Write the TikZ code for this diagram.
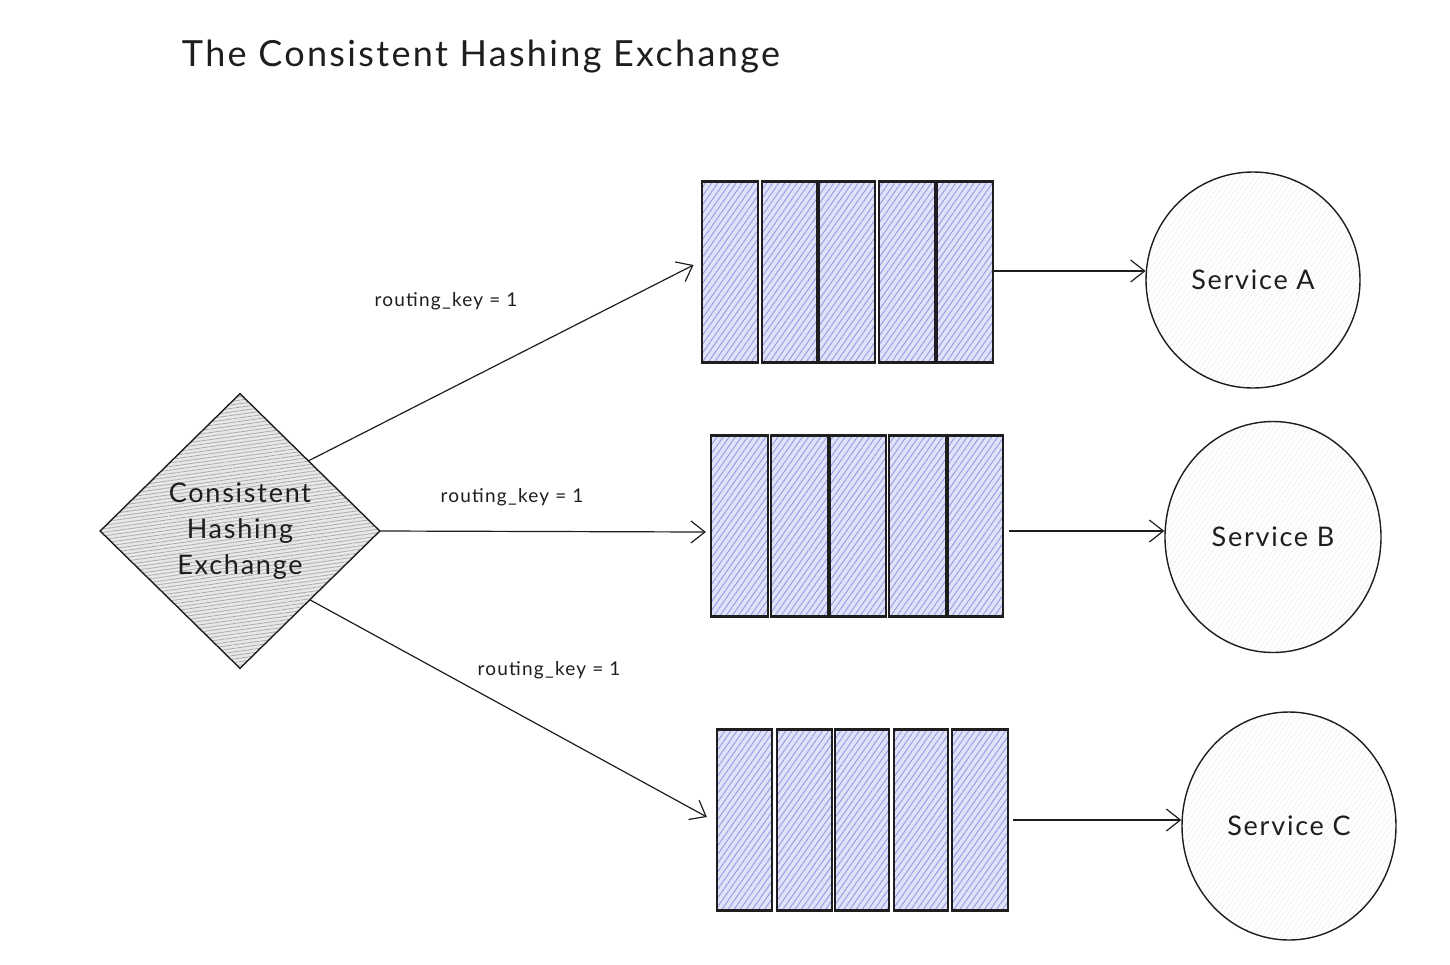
\documentclass[tikz,border=0pt]{standalone}
\usepackage{fontspec}
\setmainfont{Lato}
\newfontfamily\handfont[LetterSpace=6.5]{Lato}
\usetikzlibrary{shapes.geometric,arrows.meta,patterns.meta,calc}

\definecolor{ink}{HTML}{1E1E1E}
\definecolor{qfill}{HTML}{E0E2F8}
\definecolor{qhatch}{HTML}{959AE0}
\definecolor{xhatch}{HTML}{ABABAB}
\definecolor{xfill}{HTML}{E8E8E8}
\definecolor{shatch}{HTML}{E0E0E0}

\begin{document}
\begin{tikzpicture}[x=1pt,y=-1pt,
  cell/.style={draw=ink, line width=2.2pt, preaction={fill=qfill},
    pattern={Lines[angle=55,distance=5pt,line width=0.9pt]}, pattern color=qhatch,
    minimum height=181pt, inner sep=0pt},
  exch/.style={diamond, draw=ink, line width=1.4pt, preaction={fill=xfill},
    pattern={Lines[angle=8,distance=3.5pt,line width=0.8pt]}, pattern color=xhatch,
    minimum width=280pt, minimum height=275pt, inner sep=0pt,
    align=center, font=\handfont\fontsize{27}{36}\selectfont, text=ink},
  svc/.style={ellipse, draw=ink, line width=1.4pt, preaction={fill=white},
    pattern={Lines[angle=55,distance=4pt,line width=0.8pt]}, pattern color=shatch,
    inner sep=0pt, font=\handfont\fontsize{27}{30}\selectfont, text=ink},
  lbl/.style={font=\handfont\fontsize{19}{20}\selectfont, text=ink, inner sep=0pt},
  link/.style={draw=ink, line width=1.2pt, -{Straight Barb[length=14pt,width=22pt,line width=1.2pt]}}]

\useasboundingbox[fill=white] (0,0) rectangle (1450,964);

% title
\node[font=\handfont\fontsize{36}{40}\selectfont, text=ink] (title) at (481,57) {The Consistent Hashing Exchange};

% exchange
\node[exch] (ex) at (240,531) {Consistent\\Hashing\\Exchange};

% queues, five cells each
\foreach \cx/\w [count=\i] in {730/56, 789.5/55, 847/56, 907/56, 965/56}
  \node[cell, minimum width=\w pt] (qA\i) at (\cx,272) {};
\foreach \cx/\w [count=\i] in {739.5/57, 799.5/57, 858/56, 917.5/57, 975.5/55}
  \node[cell, minimum width=\w pt] (qB\i) at (\cx,526) {};
\foreach \cx/\w [count=\i] in {744.5/55, 804.5/55, 862/54, 921/54, 980/56}
  \node[cell, minimum width=\w pt] (qC\i) at (\cx,820) {};

% services
\node[svc, minimum width=214pt, minimum height=216pt] (sA) at (1253,280) {Service A};
\node[svc, minimum width=216pt, minimum height=231pt] (sB) at (1273,537) {Service B};
\node[svc, minimum width=214pt, minimum height=228pt] (sC) at (1289,826) {Service C};

% attachment points on the exchange border
\coordinate (exA) at ($(ex.north)!0.49!(ex.east)$);
\coordinate (exC) at ($(ex.east)!0.5!(ex.south)$);
\coordinate (inA) at ($(qA1.west)+(-8,-7)$);
\coordinate (inB) at ($(qB1.west)+(-4,6)$);
\coordinate (inC) at ($(qC1.west)+(-9,-3)$);

% routing links
\draw[link] (exA) -- (inA);
\draw[link] (ex.east) -- (inB);
\draw[link] (exC) -- (inC);

\node[lbl] (kA) at (446,301) {routing\_key = 1};
\node[lbl] (kB) at (512,497) {routing\_key = 1};
\node[lbl] (kC) at (549,670) {routing\_key = 1};

% consumers: horizontal links into each service
\coordinate (oA) at ($(qA5.east)+(0,-1)$);
\coordinate (oB) at ($(qB5.east)+(5,5)$);
\coordinate (oC) at ($(qC5.east)+(4,0)$);
\draw[link] (oA) -- (oA -| sA.west);
\draw[link] (oB) -- (oB -| sB.west);
\draw[link] (oC) -- (oC -| sC.west);
\end{tikzpicture}
\end{document}
